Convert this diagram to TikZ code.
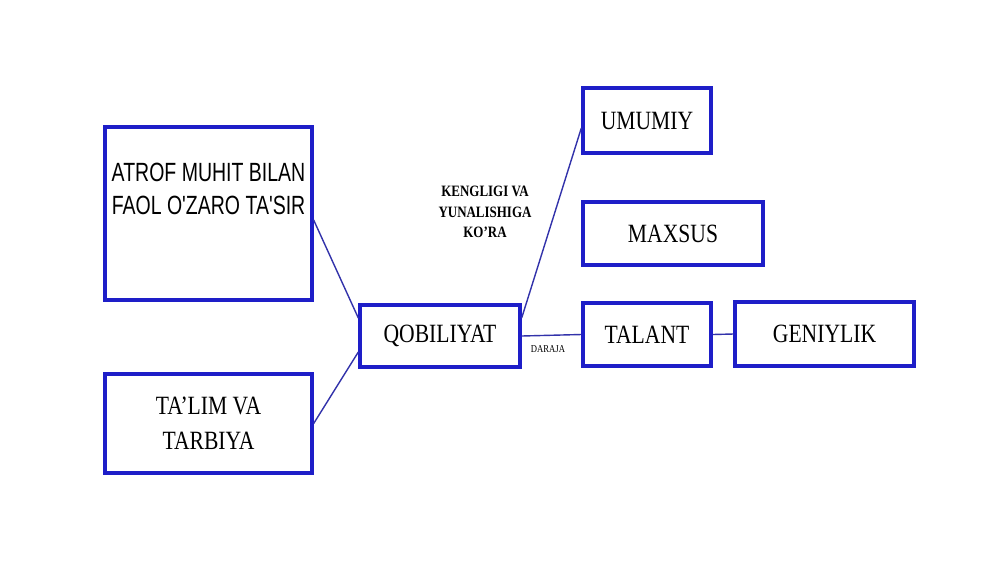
\documentclass[tikz,border=0pt]{standalone}
\usepackage{fontspec}
\setmainfont{Liberation Serif}[FakeStretch=0.82]
\newfontfamily\narrowsans{Liberation Sans}[FakeStretch=0.74]
\definecolor{boxblue}{RGB}{30,30,200}
\definecolor{lineblue}{RGB}{50,50,170}
\tikzset{
  blockbox/.style={draw=boxblue,line width=1.9pt,align=center,inner sep=0pt,
    font=\fontsize{15}{18}\selectfont},
  link/.style={draw=lineblue,line width=0.8pt}
}
\begin{document}
\begin{tikzpicture}[x=0.02cm,y=-0.02cm]
\useasboundingbox (0,0) rectangle (1000,562);
\node[blockbox,minimum width=207*0.02cm,minimum height=173*0.02cm] (atrof) at (208.5,213.5) {};
\node[align=center,font=\narrowsans\fontsize{15}{18.5}\selectfont] (atroftext) at (208.5,189) {ATROF MUHIT BILAN\\FAOL O'ZARO TA'SIR};
\node[blockbox,minimum width=207*0.02cm,minimum height=99*0.02cm] (talim) at (208.5,423.5) {TA'LIM VA\\[2pt]TARBIYA};
\node[blockbox,minimum width=160*0.02cm,minimum height=62*0.02cm] (qobil) at (440,336) {QOBILIYAT};
\node[blockbox,minimum width=128*0.02cm,minimum height=65*0.02cm] (umumiy) at (647,120.5) {UMUMIY};
\node[blockbox,minimum width=180*0.02cm,minimum height=63*0.02cm] (maxsus) at (673,233.5) {MAXSUS};
\node[blockbox,minimum width=128*0.02cm,minimum height=63*0.02cm] (talant) at (647,334.5) {TALANT};
\node[blockbox,minimum width=179*0.02cm,minimum height=64*0.02cm] (geniy) at (824.5,334) {GENIYLIK};
\node[align=center,font=\bfseries\fontsize{9}{11.5}\selectfont] (kenglik) at (485,212) {KENGLIGI VA\\YUNALISHIGA\\KO'RA};
\node[font=\fontsize{6}{7}\selectfont] (daraja) at (548,349) {DARAJA};
\draw[link] (atrof.east |- 0,220) -- (qobil.north west |- 0,318);
\draw[link] (talim.east) -- (qobil.west |- 0,352);
\draw[link] (qobil.east |- 0,318) -- (umumiy.west |- 0,128);
\draw[link] (qobil.east) -- (talant.west);
\draw[link] (talant.east) -- (geniy.west);
\end{tikzpicture}
\end{document}
